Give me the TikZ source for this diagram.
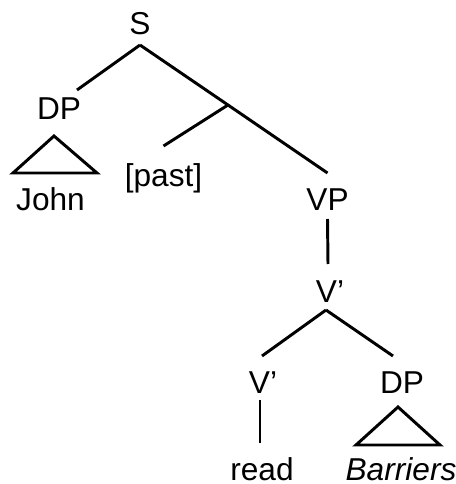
\documentclass[tikz,border=0pt]{standalone}
\usepackage{fontspec}
\setmainfont{Liberation Sans}
\usepackage{tikz}
\usetikzlibrary{calc}

\begin{document}
\begin{tikzpicture}[x=0.025cm,y=-0.025cm,
  lbl/.style={anchor=base,inner sep=0pt,font=\fontsize{22.5}{27}\selectfont},
  edge/.style={line width=2.1pt},
  tri/.style={line width=2.1pt,line join=miter}]
\useasboundingbox (0,0) rectangle (455,484);
% labels
\node[lbl] (s)    at (140,35)  {S};
\node[lbl] (dpa)  at (59,120)  {DP};
\node[lbl] (john) at (50.5,210) {John};
\node[lbl] (past) at (163.5,187) {[past]};
\node[lbl] (vp)   at (327.5,210) {VP};
\node[lbl] (vbar) at (330,302) {V'};
\node[lbl] (vhd)  at (263,393) {V'};
\node[lbl] (dpb)  at (402,393) {DP};
\node[lbl] (read) at (262,480) {read};
\node[lbl] (barr) at (401,480) {\itshape Barriers};
\coordinate (infl) at (228,105);
% branches
\draw[edge] ($(s.base)+(0,10)$) -- ($(dpa.base)+(18,-30)$);
\draw[edge] ($(s.base)+(0,10)$) -- (infl) -- ($(vp.base)+(0,-37)$);
\draw[edge] (infl) -- ($(past.base)+(0,-41)$);
\draw[edge] ($(vp.base)+(0,9)$) -- ($(vbar.base)+(-2,-38)$);
\draw[edge] ($(vbar.base)+(-4,8)$) -- ($(vhd.base)+(-1,-37)$);
\draw[edge] ($(vbar.base)+(-4,8)$) -- ($(dpb.base)+(-9,-37)$);
\draw[edge] ($(vhd.base)+(-3,7)$) -- ($(read.base)+(-2,-37)$);
% triangles
\draw[tri] ($(dpa.base)+(-5,16)$) -- ($(john.base)+(46.5,-37)$)
  -- ($(john.base)+(-37.5,-37)$) -- cycle;
\draw[tri] ($(dpb.base)+(-4,14)$) -- ($(barr.base)+(39,-35)$)
  -- ($(barr.base)+(-45,-35)$) -- cycle;
\end{tikzpicture}
\end{document}
